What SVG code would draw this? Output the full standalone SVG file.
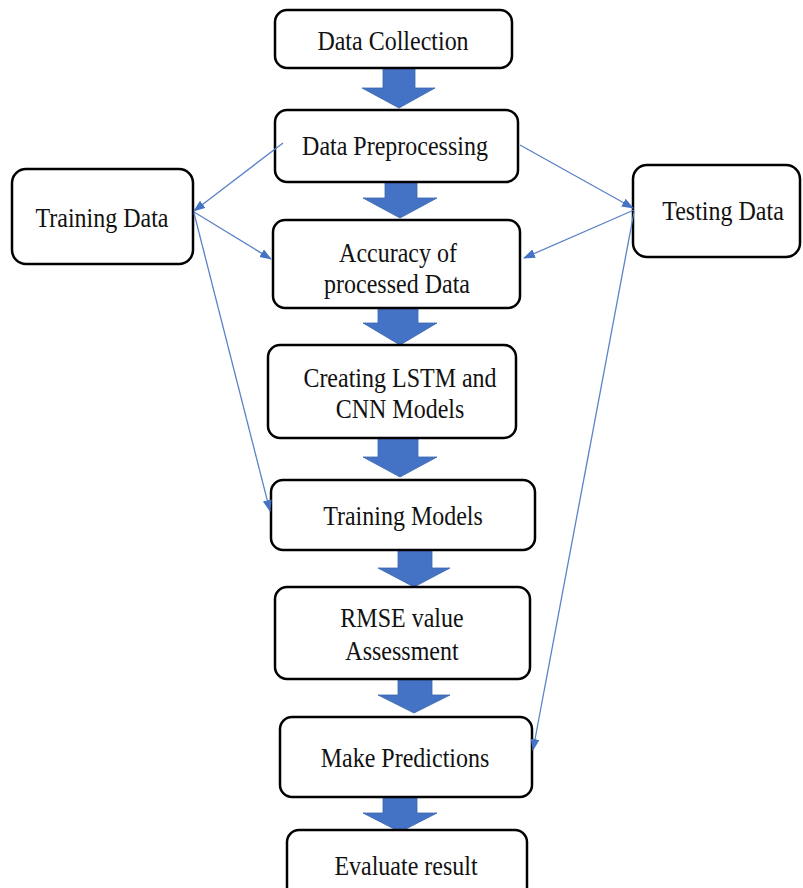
<svg xmlns="http://www.w3.org/2000/svg" width="803" height="888" viewBox="0 0 803 888">
<style>
.box{fill:#fff;stroke:#000;stroke-width:2.5}
.lbl{font-family:'Liberation Serif',serif;font-size:24px;fill:#111;text-anchor:middle}
.blk{fill:#4472C4;stroke:#3a64b0;stroke-width:0.8}
.con{stroke:#5B82C8;stroke-width:1.3;fill:none;marker-end:url(#ah)}
</style>
<defs>
<marker id="ah" markerUnits="userSpaceOnUse" markerWidth="12" markerHeight="10" refX="11" refY="4.5" orient="auto">
<path d="M0,0 L12,4.5 L0,9 z" fill="#4472C4"/>
</marker>
</defs>
<rect width="803" height="888" fill="#fff"/>
<g id="flow-arrows">
<polygon class="blk" points="383,68 415,68 415,88 435,88 399,108 362,88 383,88"/>
<polygon class="blk" points="385,182 417,182 417,198 437,198 400,218 363,198 385,198"/>
<polygon class="blk" points="378,308 418,308 418,323 437,323 400,345 363,323 378,323"/>
<polygon class="blk" points="378,438 418,438 418,457 437,457 400,477 363,457 378,457"/>
<polygon class="blk" points="398,550 432,550 432,568 450,568 414,587 378,568 398,568"/>
<polygon class="blk" points="398,679 432,679 432,695 450,695 414,713 378,695 398,695"/>
<polygon class="blk" points="383,797 417,797 417,813 437,813 400,832 363,813 383,813"/>
</g>
<g id="n-collection"><rect class="box" x="275" y="10" width="237" height="58" rx="12"/>
<g transform="translate(393,50) scale(1,1.1)"><text class="lbl" x="0" y="0">Data Collection</text></g></g>
<g id="n-preprocessing"><rect class="box" x="275" y="110" width="243" height="72" rx="12"/>
<g transform="translate(395,155) scale(1,1.1)"><text class="lbl" x="0" y="0">Data Preprocessing</text></g></g>
<g id="n-accuracy"><rect class="box" x="273" y="220" width="247" height="88" rx="12"/>
<g transform="translate(398,262) scale(1,1.1)"><text class="lbl" x="0" y="0">Accuracy of</text></g>
<g transform="translate(397,293) scale(1,1.1)"><text class="lbl" x="0" y="0">processed Data</text></g></g>
<g id="n-creating"><rect class="box" x="268" y="345" width="248" height="93" rx="12"/>
<g transform="translate(400,387) scale(1,1.1)"><text class="lbl" x="0" y="0">Creating LSTM and</text></g>
<g transform="translate(400,418) scale(1,1.1)"><text class="lbl" x="0" y="0">CNN Models</text></g></g>
<g id="n-training-models"><rect class="box" x="271" y="480" width="264" height="70" rx="12"/>
<g transform="translate(403,525) scale(1,1.1)"><text class="lbl" x="0" y="0">Training Models</text></g></g>
<g id="n-rmse"><rect class="box" x="275" y="587" width="255" height="92" rx="12"/>
<g transform="translate(402,627) scale(1,1.1)"><text class="lbl" x="0" y="0">RMSE value</text></g>
<g transform="translate(402,660) scale(1,1.1)"><text class="lbl" x="0" y="0">Assessment</text></g></g>
<g id="n-predictions"><rect class="box" x="280" y="717" width="252" height="80" rx="12"/>
<g transform="translate(405,767) scale(1,1.1)"><text class="lbl" x="0" y="0">Make Predictions</text></g></g>
<g id="n-evaluate"><rect class="box" x="287" y="830" width="240" height="70" rx="12"/>
<g transform="translate(406,875) scale(1,1.1)"><text class="lbl" x="0" y="0">Evaluate result</text></g></g>
<g id="n-training-data"><rect class="box" x="12" y="169" width="181" height="95" rx="14"/>
<g transform="translate(102,227) scale(1,1.1)"><text class="lbl" x="0" y="0">Training Data</text></g></g>
<g id="n-testing-data"><rect class="box" x="633" y="165" width="167" height="92" rx="14"/>
<g transform="translate(723,220) scale(1,1.1)"><text class="lbl" x="0" y="0">Testing Data</text></g></g>
<g id="connectors">
<line class="con" x1="283" y1="143" x2="194" y2="211"/>
<line class="con" x1="194" y1="212" x2="271" y2="259"/>
<line class="con" x1="194" y1="213" x2="270" y2="511"/>
<line class="con" x1="520" y1="145" x2="633" y2="208"/>
<line class="con" x1="634" y1="210" x2="524" y2="258"/>
<line class="con" x1="634" y1="212" x2="533" y2="750"/>
</g>
</svg>
